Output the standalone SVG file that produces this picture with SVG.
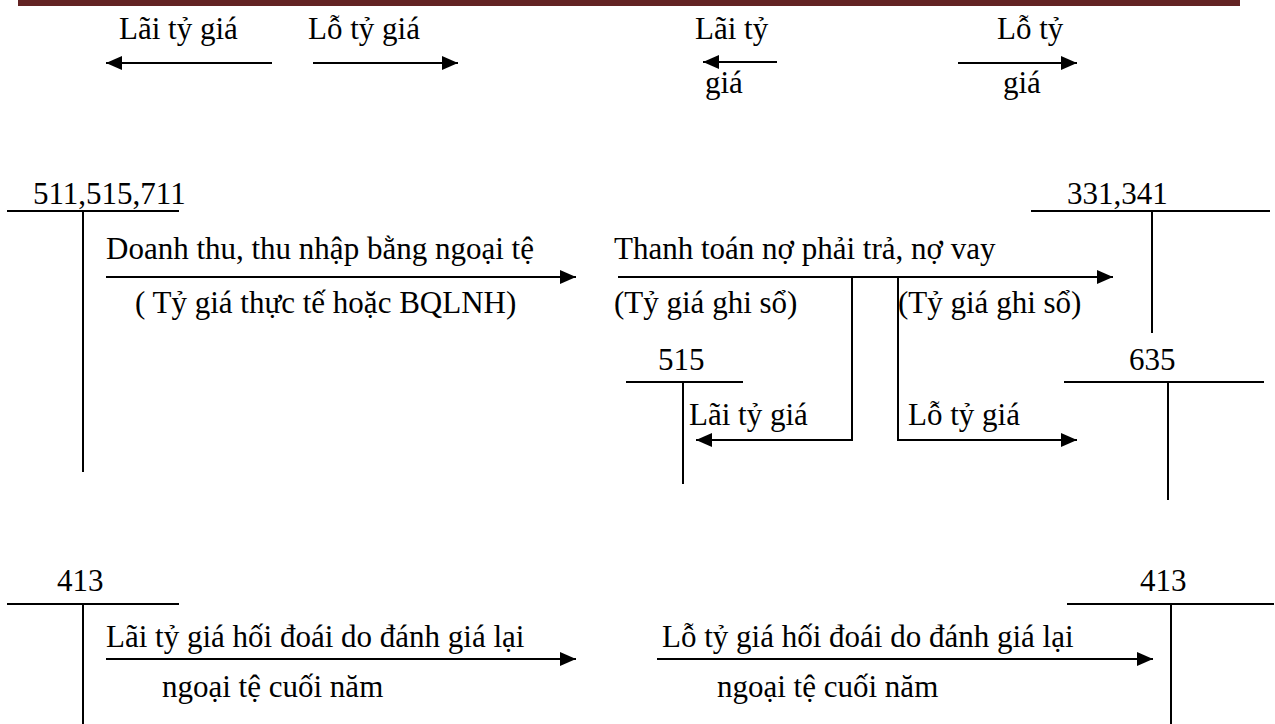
<svg xmlns="http://www.w3.org/2000/svg" width="1275" height="724" viewBox="0 0 1275 724">
  <style>
    text { font-family: "Liberation Serif", "Times New Roman", serif; font-size: 31px; fill: #000; }
    .ln { stroke: #000; stroke-width: 2; fill: none; }
  </style>
  <defs>
    <marker id="ah" viewBox="0 0 16 14" refX="16" refY="7" markerWidth="16" markerHeight="14" markerUnits="userSpaceOnUse" orient="auto">
      <path d="M0,0 L16,7 L0,14 Z" fill="#000"/>
    </marker>
  </defs>
  <rect width="1275" height="724" fill="#fff"/>
  <!-- header rule -->
  <rect x="18" y="0" width="1222" height="6" fill="#632323"/>

  <!-- legend -->
  <g id="legend">
    <text x="119" y="39">Lãi tỷ giá</text>
    <text x="308" y="39">Lỗ tỷ giá</text>
    <text x="695" y="39">Lãi tỷ</text>
    <text x="705" y="93">giá</text>
    <text x="997" y="39">Lỗ tỷ</text>
    <text x="1003" y="93">giá</text>
  </g>

  <!-- T accounts -->
  <g id="acc-511">
    <text x="33" y="204">511,515,711</text>
    <line class="ln" x1="7" y1="211" x2="179" y2="211"/>
    <line class="ln" x1="83" y1="211" x2="83" y2="472"/>
  </g>
  <g id="acc-331">
    <text x="1067" y="204">331,341</text>
    <line class="ln" x1="1031" y1="211" x2="1270" y2="211"/>
    <line class="ln" x1="1152" y1="211" x2="1152" y2="333"/>
  </g>
  <g id="acc-515">
    <text x="658" y="370">515</text>
    <line class="ln" x1="626" y1="382" x2="743" y2="382"/>
    <line class="ln" x1="683" y1="382" x2="683" y2="484"/>
  </g>
  <g id="acc-635">
    <text x="1129" y="370">635</text>
    <line class="ln" x1="1064" y1="382" x2="1264" y2="382"/>
    <line class="ln" x1="1168" y1="382" x2="1168" y2="500"/>
  </g>
  <g id="acc-413-left">
    <text x="57" y="591">413</text>
    <line class="ln" x1="7" y1="604" x2="179" y2="604"/>
    <line class="ln" x1="83" y1="604" x2="83" y2="724"/>
  </g>
  <g id="acc-413-right">
    <text x="1140" y="591">413</text>
    <line class="ln" x1="1067" y1="604" x2="1274" y2="604"/>
    <line class="ln" x1="1171" y1="604" x2="1171" y2="724"/>
  </g>

  <!-- entry labels -->
  <g id="labels">
    <text x="106" y="259">Doanh thu, thu nhập bằng ngoại tệ</text>
    <text x="135" y="313">( Tỷ giá thực tế hoặc BQLNH)</text>
    <text x="614" y="259">Thanh toán nợ phải trả, nợ vay</text>
    <text x="614" y="313">(Tỷ giá ghi sổ)</text>
    <text x="898" y="313">(Tỷ giá ghi sổ)</text>
    <text x="689" y="425">Lãi tỷ giá</text>
    <text x="908" y="425">Lỗ tỷ giá</text>
    <text x="106" y="647">Lãi tỷ giá hối đoái do đánh giá lại</text>
    <text x="162" y="697">ngoại tệ cuối năm</text>
    <text x="662" y="647">Lỗ tỷ giá hối đoái do đánh giá lại</text>
    <text x="717" y="697">ngoại tệ cuối năm</text>
  </g>

  <!-- connectors -->
  <g id="connectors" class="ln" marker-end="url(#ah)">
    <line x1="272" y1="63" x2="106" y2="63"/>
    <line x1="313" y1="63" x2="458" y2="63"/>
    <line x1="777" y1="62" x2="703" y2="62"/>
    <line x1="958" y1="63" x2="1077" y2="63"/>
    <line x1="106" y1="277" x2="576" y2="277"/>
    <line x1="618" y1="277" x2="1113" y2="277"/>
    <polyline points="852,277 852,440 696,440"/>
    <polyline points="898,277 898,440 1077,440"/>
    <line x1="106" y1="659" x2="576" y2="659"/>
    <line x1="657" y1="659" x2="1153" y2="659"/>
  </g>
</svg>
